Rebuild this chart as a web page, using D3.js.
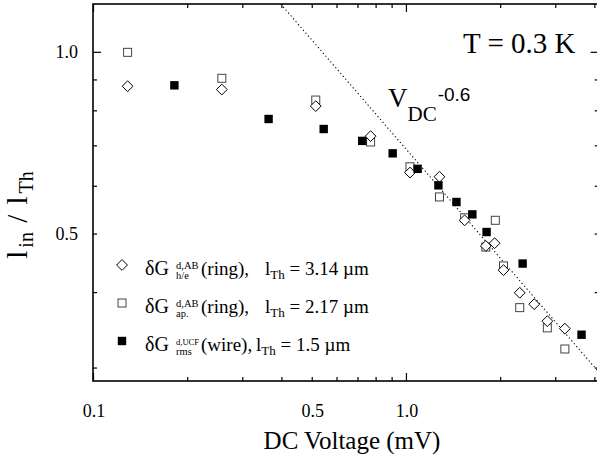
<!DOCTYPE html>
<html>
<head>
<meta charset="utf-8">
<title>l_in / l_Th versus DC voltage</title>
<style>
  body { margin: 0; background: #fff; }
  svg { display: block; font-family: "Liberation Serif", "Times New Roman", serif; }
</style>
</head>
<body>
<script src="https://d3js.org/d3.v7.min.js"></script>
<script>
// dG h/e (ring) - open diamonds
var heV = [0.129, 0.258, 0.515, 0.771, 1.03, 1.28, 1.54, 1.80, 1.92, 2.05, 2.31, 2.57, 2.83, 3.22];
var heL = [0.877, 0.866, 0.813, 0.725, 0.631, 0.621, 0.526, 0.477, 0.482, 0.435, 0.399, 0.382, 0.358, 0.348];
// dG ap. (ring) - open squares
var apV = [0.129, 0.258, 0.515, 0.771, 1.03, 1.28, 1.54, 1.80, 1.93, 2.05, 2.31, 2.83, 3.22];
var apL = [0.998, 0.904, 0.832, 0.709, 0.645, 0.575, 0.531, 0.475, 0.526, 0.442, 0.377, 0.349, 0.322];
// dG rms UCF (wire) - filled squares
var ucfV = [0.182, 0.364, 0.546, 0.725, 0.907, 1.09, 1.27, 1.45, 1.63, 1.81, 2.36, 3.64];
var ucfL = [0.880, 0.774, 0.745, 0.712, 0.679, 0.640, 0.601, 0.564, 0.538, 0.503, 0.446, 0.340];
// V_DC^-0.6 guide line, end points
var fitV = [0.398, 4.13];
var fitL = [1.2, 0.295];

// ticks
var xMajor = [0.1, 1];
var xMinor = [0.2, 0.3, 0.4, 0.5, 0.6, 0.7, 0.8, 0.9, 2, 3, 4];
var xLabels = [0.1, 0.5, 1.0];
var yMajor = [1];
var yMinor = [0.3, 0.4, 0.5, 0.6, 0.7, 0.8, 0.9];
var yLabels = [0.5, 1.0];

var W = 597, H = 461;
var pLeft = 93, pRight = 598.7, pTop = 4, pBottom = 381;

var svg = d3.select("body").append("svg")
    .attr("width", W)
    .attr("height", H);

var x = d3.scaleLog().domain([0.1, 4.13]).range([pLeft, pRight]);
var y = d3.scaleLog().domain([0.285, 1.2]).range([pBottom, pTop]);

function zip(a, b) { return a.map(function(d, i) { return [d, b[i]]; }); }

// ticks on all four sides, pointing inward
function ticks(axis, vals, len, tr) {
  var g = svg.append("g")
      .attr("transform", tr)
      .call(axis.tickValues(vals).tickSize(-len).tickFormat(""));
  g.select(".domain").remove();
  g.selectAll("line").attr("stroke", "#000").attr("stroke-width", 1.2);
}
ticks(d3.axisBottom(x), xMinor, 4, "translate(0," + pBottom + ")");
ticks(d3.axisBottom(x), xMajor, 8, "translate(0," + pBottom + ")");
ticks(d3.axisTop(x), xMinor, 4, "translate(0," + pTop + ")");
ticks(d3.axisTop(x), xMajor, 8, "translate(0," + pTop + ")");
ticks(d3.axisLeft(y), yMinor, 4, "translate(" + pLeft + ",0)");
ticks(d3.axisLeft(y), yMajor, 8, "translate(" + pLeft + ",0)");
ticks(d3.axisRight(y), yMinor, 4, "translate(" + pRight + ",0)");
ticks(d3.axisRight(y), yMajor, 8, "translate(" + pRight + ",0)");

// frame
svg.append("rect")
    .attr("x", pLeft).attr("y", pTop)
    .attr("width", pRight - pLeft).attr("height", pBottom - pTop)
    .attr("fill", "none")
    .attr("stroke", "#000")
    .attr("stroke-width", 1.6);

// tick labels
svg.selectAll(".xlab").data(xLabels).enter().append("text")
    .attr("x", function(d) { return x(d) + 1; })
    .attr("y", 417)
    .attr("text-anchor", "middle")
    .attr("font-size", 18)
    .text(function(d) { return d3.format(".1f")(d); });

svg.selectAll(".ylab").data(yLabels).enter().append("text")
    .attr("x", 78)
    .attr("y", function(d) { return y(d) + 6; })
    .attr("text-anchor", "end")
    .attr("font-size", 18)
    .text(function(d) { return d3.format(".1f")(d); });

// axis titles
svg.append("text")
    .attr("x", 352)
    .attr("y", 449)
    .attr("text-anchor", "middle")
    .attr("font-size", 25)
    .text("DC Voltage (mV)");

var yt = svg.append("text")
    .attr("transform", "translate(27,215) rotate(-90)")
    .attr("text-anchor", "middle")
    .attr("font-size", 29);
yt.append("tspan").text("l");
yt.append("tspan").attr("font-size", 20).attr("dx", 3).attr("dy", 6).text("in");
yt.append("tspan").attr("dy", -6).attr("dx", 2).text(" / ");
yt.append("tspan").attr("dx", 3).text("l");
yt.append("tspan").attr("font-size", 20).attr("dx", 3).attr("dy", 6).text("Th");

// guide line
var line = d3.line()
    .x(function(d) { return x(d[0]); })
    .y(function(d) { return y(d[1]); });

svg.append("path")
    .datum(zip(fitV, fitL))
    .attr("d", line)
    .attr("fill", "none")
    .attr("stroke", "#000")
    .attr("stroke-width", 1.1)
    .attr("stroke-dasharray", "1.2,2.6");

var vt = svg.append("text").attr("x", 388).attr("y", 107);
vt.append("tspan").attr("font-size", 27).text("V");
vt.append("tspan").attr("font-size", 21).attr("dy", 14).text("DC");
vt.append("tspan")
    .attr("font-family", "'Liberation Sans', Arial, sans-serif")
    .attr("font-size", 19).attr("dy", -20).attr("dx", 1).text("-0.6");

svg.append("text")
    .attr("x", 463).attr("y", 53)
    .attr("font-size", 29)
    .text("T = 0.3 K");

// markers
function diamond(g, px, py) {
  var s = 5.4;
  g.append("path")
      .attr("d", "M" + px + "," + (py - s) + "L" + (px + s) + "," + py + "L" + px + "," + (py + s) + "L" + (px - s) + "," + py + "Z")
      .attr("fill", "#fff").attr("stroke", "#000").attr("stroke-width", 1);
}
function openSq(g, px, py) {
  g.append("rect")
      .attr("x", px - 4).attr("y", py - 4).attr("width", 8).attr("height", 8)
      .attr("fill", "#fff").attr("stroke", "#444").attr("stroke-width", 1);
}
function fillSq(g, px, py) {
  g.append("rect")
      .attr("x", px - 4.2).attr("y", py - 4.2).attr("width", 8.4).attr("height", 8.4)
      .attr("fill", "#000");
}

var pts = svg.append("g");
zip(apV, apL).forEach(function(d) { openSq(pts, x(d[0]), y(d[1])); });
zip(heV, heL).forEach(function(d) { diamond(pts, x(d[0]), y(d[1])); });
zip(ucfV, ucfL).forEach(function(d) { fillSq(pts, x(d[0]), y(d[1])); });

// legend
var legend = [
  {mark: diamond, sup: "d,AB", supSize: 10.5, sub: "h/e", kind: "(ring),", tx: 265, val: "= 3.14 \u00b5m"},
  {mark: openSq, sup: "d,AB", supSize: 10.5, sub: "ap.", kind: "(ring),", tx: 265, val: "= 2.17 \u00b5m"},
  {mark: fillSq, sup: "d,UCF", supSize: 8.5, sub: "rms", kind: "(wire),", tx: 256, val: "= 1.5 \u00b5m"}
];
var lg = svg.append("g");
legend.forEach(function(d, i) {
  var by = 275 + 38 * i;
  d.mark(lg, 122, by - 10);
  lg.append("text").attr("x", 145).attr("y", by).attr("font-size", 20).text("\u03b4G");
  lg.append("text").attr("x", 176).attr("y", by - 6).attr("font-size", d.supSize).text(d.sup);
  lg.append("text").attr("x", 176).attr("y", by + 4).attr("font-size", 10.5).text(d.sub);
  lg.append("text").attr("x", 201).attr("y", by).attr("font-size", 19).text(d.kind);
  var t = lg.append("text").attr("x", d.tx).attr("y", by).attr("font-size", 19);
  t.append("tspan").text("l");
  t.append("tspan").attr("font-size", 13).attr("dy", 4).text("Th");
  t.append("tspan").attr("dy", -4).text(" " + d.val);
});
</script>
</body>
</html>
